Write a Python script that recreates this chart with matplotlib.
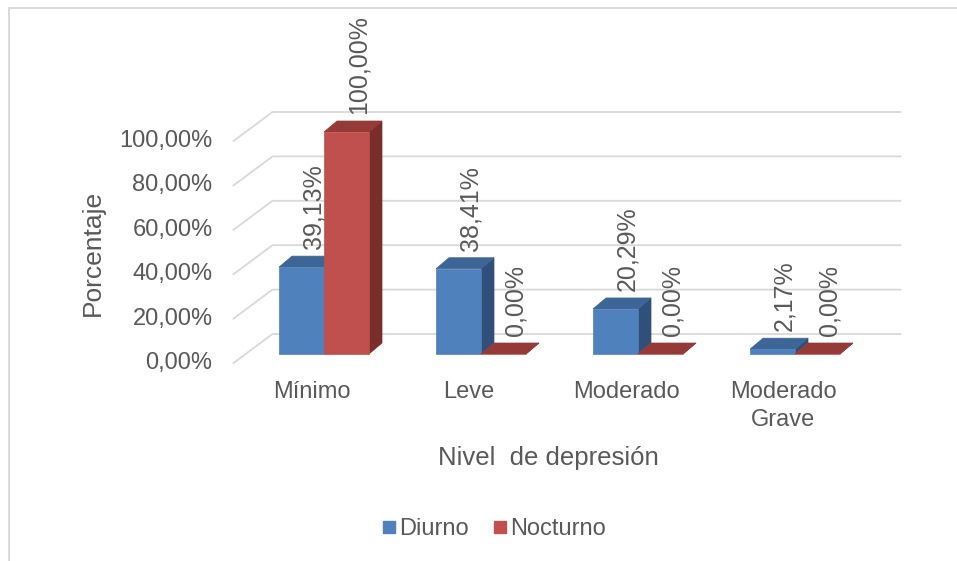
import matplotlib
matplotlib.use("Agg")
import matplotlib.pyplot as plt
from matplotlib.patches import Polygon
from matplotlib.lines import Line2D
from matplotlib.transforms import IdentityTransform

# ---- data ----
categories = ["Mínimo", "Leve", "Moderado", "Moderado\nGrave"]
diurno = [39.13, 38.41, 20.29, 2.17]
nocturno = [100.00, 0.00, 0.00, 0.00]
series_names = ["Diurno", "Nocturno"]
y_ticks = [0, 20, 40, 60, 80, 100]
x_title = "Nivel  de depresión"
y_title = "Porcentaje"

# ---- style ----
W, H, DPI = 957, 561, 100
TEXT = "#595959"
GRID = "#d9d9d9"
FONT = "Liberation Sans"
front_cols = ["#4f81bd", "#c0504d"]
top_cols = ["#3d6596", "#953a37"]
side_cols = ["#30507a", "#7a2e2c"]

plt.rcParams["font.family"] = [FONT, "DejaVu Sans"]

fig = plt.figure(figsize=(W / DPI, H / DPI), dpi=DPI)

# axes placed so that the bars' front plane maps onto the canvas
x0_px, x_unit = 324.0, 157.0        # category 0 centre, pixels per category
y0_px, y_unit = 354.0, 2.22         # 0 % line (from top), pixels per percent
xlim = (-0.7, 3.7)
ylim = (-5.0, 110.0)
left = x0_px + xlim[0] * x_unit
right = x0_px + xlim[1] * x_unit
bottom = y0_px - ylim[0] * y_unit
top = y0_px - ylim[1] * y_unit
ax = fig.add_axes([left / W, (H - bottom) / H, (right - left) / W, (bottom - top) / H])
ax.set_xlim(*xlim)
ax.set_ylim(*ylim)
ax.axis("off")

ident = IdentityTransform()

# depth offsets in display pixels (x right, y up)
BAR_DEPTH = (13.0, 11.0)
WALL = (27.0, 20.0)
FLOOR_FRONT = (-12.0, -9.0)


def disp(x, y, off=(0.0, 0.0)):
    px, py = ax.transData.transform((x, y))
    return (px + off[0], py + off[1])


def shift(p, off):
    return (p[0] + off[0], p[1] + off[1])


def pct(v):
    return f"{v:.2f}".replace(".", ",") + "%"


# gridlines: left side wall diagonal + back wall horizontal
for v in y_ticks:
    pts = [disp(-0.5, v, FLOOR_FRONT), disp(-0.5, v, WALL), disp(3.5, v, WALL)]
    ax.add_line(Line2D([p[0] for p in pts], [p[1] for p in pts], transform=ident,
                       color=GRID, lw=1.3, clip_on=False, zorder=1))
    tx, ty = disp(-0.5, v, (FLOOR_FRONT[0] - 21, FLOOR_FRONT[1]))
    ax.text(tx, ty, pct(v), transform=ident, ha="right", va="center",
            fontsize=17, color=TEXT, clip_on=False)

bar_w = 45.0 / x_unit
series = [diurno, nocturno]
z = 2
for i in range(len(categories)):
    for s, vals in enumerate(series):
        v = vals[i]
        xa = i - bar_w if s == 0 else i
        xb = xa + bar_w
        fl, fr = disp(xa, 0), disp(xb, 0)
        tl, tr = disp(xa, v), disp(xb, v)
        side = [fr, tr, shift(tr, BAR_DEPTH), shift(fr, BAR_DEPTH)]
        topf = [tl, tr, shift(tr, BAR_DEPTH), shift(tl, BAR_DEPTH)]
        front = [fl, fr, tr, tl]
        for verts, col in ((side, side_cols[s]), (topf, top_cols[s]), (front, front_cols[s])):
            ax.add_patch(Polygon(verts, closed=True, transform=ident, facecolor=col,
                                 edgecolor=col, lw=0.5, clip_on=False, zorder=z))
            z += 1
        lx, ly = disp((xa + xb) / 2, v, (12.0, 18.0))
        ax.text(lx, ly, pct(v), transform=ident, rotation=90, ha="center",
                va="bottom", fontsize=18, color=TEXT, clip_on=False, zorder=100)

# category labels along the front floor edge
for i, name in enumerate(categories):
    cx, cy = disp(i, 0, (FLOOR_FRONT[0], FLOOR_FRONT[1] - 18))
    ax.text(cx, cy, name, transform=ident, ha="center", va="top",
            multialignment="center", linespacing=1.35, fontsize=17, color=TEXT,
            clip_on=False)

# axis titles
fig.text(93 / W, 1 - 253 / H, y_title, rotation=90, ha="center", va="center",
         fontsize=19, color=TEXT)
fig.text(548 / W, 1 - 458 / H, x_title, ha="center", va="center",
         fontsize=18.5, color=TEXT)

# legend
handles = [Line2D([], [], marker="s", ls="", markersize=9, markerfacecolor=c,
                  markeredgecolor=c) for c in front_cols]
fig.legend(handles, series_names, loc="center", bbox_to_anchor=(494 / W, 1 - 529 / H),
           ncol=2, frameon=False, fontsize=17, labelcolor=TEXT, handlelength=0.6,
           handletextpad=0.15, columnspacing=1.0, borderpad=0, borderaxespad=0)

# chart area border (top and left edges visible)
fig.add_artist(Line2D([9 / W, 9 / W, 1.0], [0.0, 1 - 8 / H, 1 - 8 / H],
                      transform=fig.transFigure, color=GRID, lw=1.3))

fig.savefig("out.png", dpi=DPI, facecolor="white")
